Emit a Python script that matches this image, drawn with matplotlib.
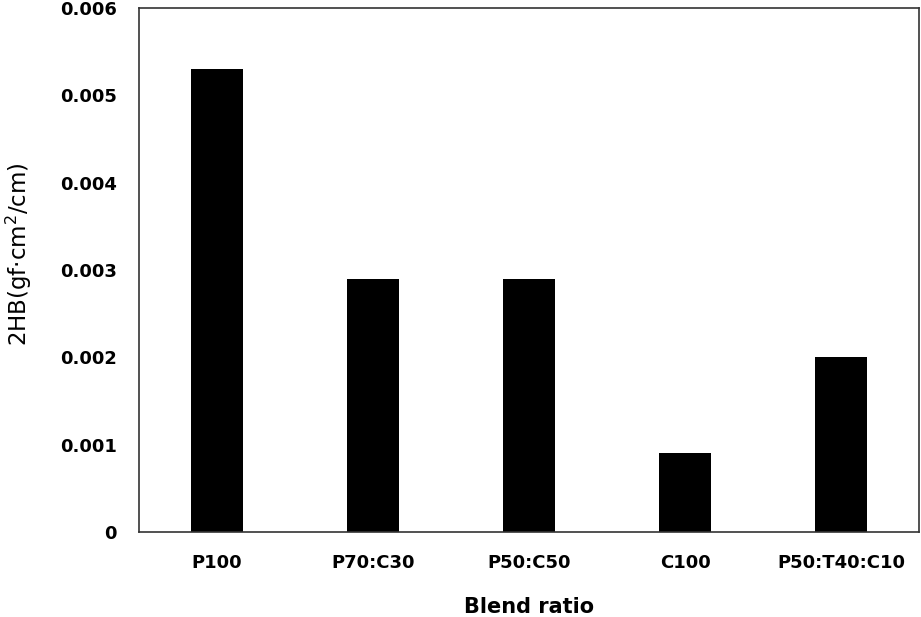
import matplotlib.pyplot as plt
import numpy as np

# Data
categories = ["P100", "P70:C30", "P50:C50", "C100", "P50:T40:C10"]
values = [0.0053, 0.0029, 0.0029, 0.0009, 0.0020]
yticks = [0, 0.001, 0.002, 0.003, 0.004, 0.005, 0.006]
ytick_labels = ["0", "0.001", "0.002", "0.003", "0.004", "0.005", "0.006"]

fig = plt.figure(figsize=(9.21, 6.17), dpi=100)
ax = fig.add_axes([139 / 921, 1 - 532 / 617, 780 / 921, 524 / 617])

x = np.arange(len(categories))
ax.bar(x, values, width=0.33, color="black")

ax.set_xlim(-0.5, len(categories) - 0.5)
ax.set_ylim(0, 0.006)
ax.set_xticks(x)
ax.set_xticklabels(categories, fontsize=13, fontweight="bold")
ax.set_yticks(yticks)
ax.set_yticklabels(ytick_labels, fontsize=13, fontweight="bold")
ax.tick_params(axis="x", length=0, pad=16)
ax.tick_params(axis="y", length=0, pad=16)

for s in ax.spines.values():
    s.set_linewidth(1.2)
    s.set_color("#333333")

ax.set_xlabel("Blend ratio", fontsize=15, fontweight="bold", labelpad=18)
ax.set_ylabel("2HB(gf·cm$^2$/cm)", fontsize=16.5)
ax.yaxis.set_label_coords(-0.134, 0.53)

fig.savefig("out.png", dpi=100)
